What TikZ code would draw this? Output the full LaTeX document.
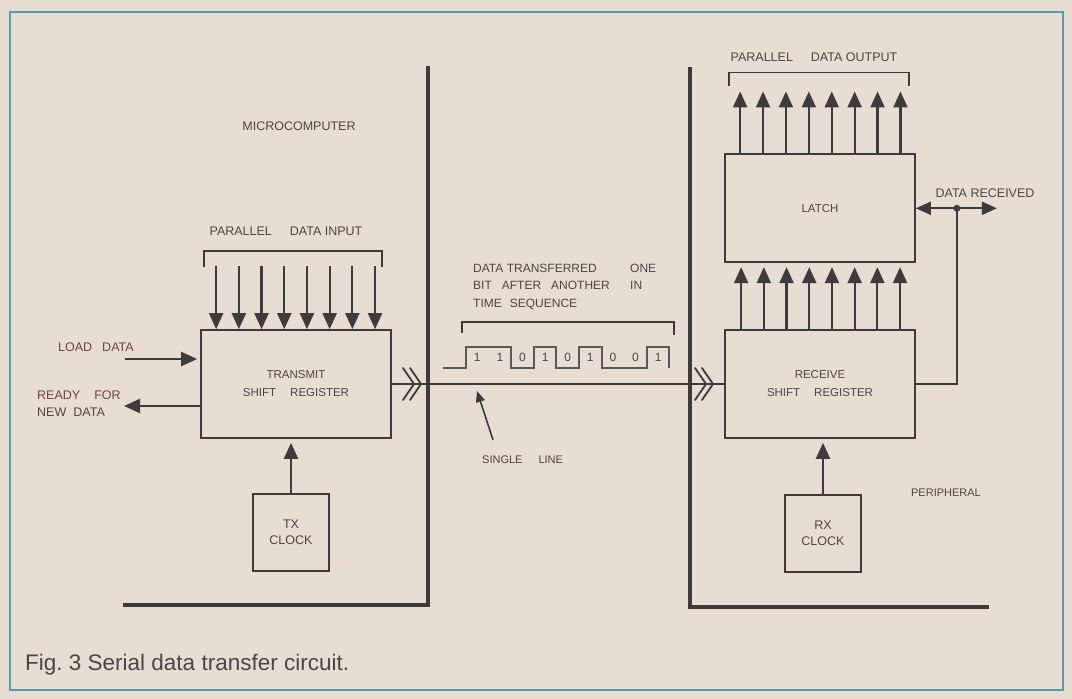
\documentclass[tikz,border=0pt]{standalone}
\usepackage{fontspec}
\setmainfont{Liberation Sans}
\usepackage{xcolor}
\usetikzlibrary{arrows.meta,positioning,calc}
\definecolor{paper}{HTML}{E8DDD3}
\definecolor{ink}{HTML}{3D3B3B}
\definecolor{print}{HTML}{4A4646}
\definecolor{frame}{HTML}{5A9CA6}
\definecolor{maroon}{HTML}{74404C}

\begin{document}
\begin{tikzpicture}[
  x=1pt, y=-1pt,
  font=\fontsize{12.5}{17}\selectfont, text=print,
  regbox/.style={draw=ink, line width=1.7pt, minimum width=190pt, minimum height=108pt, align=center, inner sep=0pt, font=\fontsize{11.5}{18}\selectfont},
  clkbox/.style={draw=ink, line width=2.6pt, minimum width=76pt, minimum height=77pt, align=center, inner sep=0pt, font=\fontsize{12.5}{16}\selectfont},
  lbl/.style={inner sep=0pt, align=left},
  bit/.style={inner sep=0pt, font=\fontsize{12}{12}\selectfont},
  wire/.style={draw=ink, line width=1.8pt},
  wave/.style={draw=ink!85, line width=1.3pt},
  bound/.style={draw=ink, line width=3.4pt},
  arr/.style={-{Triangle[length=16pt, width=14pt]}, draw=ink, line width=2.2pt},
  arrs/.style={-{Triangle[length=11pt, width=9pt]}, draw=ink, line width=1.6pt},
  dbl/.style={{Triangle[length=15pt, width=13pt]}-{Triangle[length=15pt, width=13pt]}, draw=ink, line width=2.2pt}
]
\useasboundingbox (0,0) rectangle (1072,699);
\fill[paper] (0,0) rectangle (1072,699);
\draw[frame, line width=2.5pt] (10,12) rectangle (1063,690);

% microcomputer | peripheral boundaries
\draw[bound] (428,66) -- (428,605) -- (123,605);
\draw[bound] (690,67) -- (690,607) -- (989,607);

% blocks
\node[regbox] (tsr) at (296,384) {TRANSMIT\\SHIFT\hspace{14pt}REGISTER};
\node[clkbox, below=54pt of tsr, xshift=-5pt] (txclk) {TX\\CLOCK};
\node[regbox] (rsr) at (820,384) {RECEIVE\\SHIFT\hspace{14pt}REGISTER};
\node[regbox, above=66pt of rsr] (latch) {LATCH};
\node[clkbox, below=55pt of rsr, xshift=3pt] (rxclk) {RX\\CLOCK};

% labels
\node[lbl] (micro) at (299,126) {MICROCOMPUTER};
\node[lbl, font=\fontsize{11}{13}\selectfont] (periph) at (946,493) {PERIPHERAL};
\node[lbl] (pin) at (286,231) {PARALLEL\hspace{18pt}DATA INPUT};
\node[lbl] (pout) at (814,57) {PARALLEL\hspace{18pt}DATA OUTPUT};
\node[lbl, anchor=west, text=maroon] (ld) at (58,347) {LOAD\hspace{10pt}DATA};
\node[lbl, anchor=north west] (rdy) at (37,390.5) {\textcolor{maroon}{READY\hspace{14pt}FOR}\\NEW\hspace{7pt}DATA};
\node[lbl, anchor=north west, font=\fontsize{12}{17.5}\selectfont] (seq) at (473,263.5)
  {\makebox[157pt][l]{DATA TRANSFERRED}ONE\\
   \makebox[157pt][l]{BIT\hspace{10pt}AFTER\hspace{10pt}ANOTHER}IN\\
   TIME\hspace{8pt}SEQUENCE};
\node[lbl, anchor=west, font=\fontsize{11}{13}\selectfont] (sl) at (482,460) {SINGLE\hspace{16pt}LINE};
\node[lbl] (drx) at (985,193) {DATA RECEIVED};
\node[lbl, anchor=base west, font=\fontsize{22.5}{26}\selectfont] (cap) at (25,670) {Fig.\ 3 Serial data transfer circuit.};

% parallel in
\draw[wire] ($(tsr.north west)+(4,-62)$) -- ++(0,-16) -- ++(178,0) -- ++(0,16);
\foreach \i in {0,...,7}
  \draw[arr] ($(tsr.north west)+(16+22.7*\i,-63)$) -- ($(tsr.north west)+(16+22.7*\i,0)$);

% shift register to latch, latch to parallel out
\foreach \i in {0,...,7}
  \draw[arr, shorten >=4pt] ($(rsr.north west)+(17+22.7*\i,0)$) -- ($(latch.south west)+(17+22.7*\i,0)$);
\foreach \i in {0,...,7}
  \draw[arr] ($(latch.north west)+(16+22.9*\i,0)$) -- ++(0,-62);
\draw[wire] ($(latch.north west)+(5,-67)$) -- ++(0,-14) -- ++(180,0) -- ++(0,14);

% load / ready
\coordinate (ldin) at (125,359);
\coordinate (rdyout) at (124,406);
\draw[arr, shorten >=3pt] (ldin) -- (tsr.west |- ldin);
\draw[arr] (tsr.west |- rdyout) -- (rdyout);

% clocks
\draw[arr, shorten >=4pt] (txclk.north) -- (txclk.north |- tsr.south);
\draw[arr, shorten >=4pt] (rxclk.north) -- (rxclk.north |- rsr.south);

% serial line
\draw[wire] (tsr.east) -- (rsr.west);
\foreach \cx in {403,410,695,702}
  \draw[wire, line cap=round] (\cx,368) -- (\cx+11,384) -- (\cx,400);

% bit stream
\draw[wire, line width=1.3pt] (462,333) -- (462,322) -- (674,322) -- (674,335);
\draw[wave] (443,368) -- (466,368) -- (466,347) -- (511,347) -- (511,368) -- (534,368)
  -- (534,347) -- (556,347) -- (556,368) -- (579,368) -- (579,347) -- (602,347)
  -- (602,368) -- (647,368) -- (647,347) -- (669,347) -- (669,368);
\foreach \b [count=\k from 0] in {1,1,0,1,0,1,0,0,1}
  \node[bit] (bit\k) at ({477.3+22.6*\k},357) {\b};
\coordinate (sltip) at (477,391);
\draw[arrs] ([xshift=11pt, yshift=16pt]sl.north west) -- (sltip);

% data received
\coordinate (drj) at ($(latch.east)+(41,0)$);
\coordinate (drend) at ($(latch.east)+(81,0)$);
\draw[dbl] (latch.east) -- (drend);
\fill[ink] (drj) circle (3.5pt);
\draw[wire] (drj) |- (rsr.east);
\end{tikzpicture}
\end{document}
